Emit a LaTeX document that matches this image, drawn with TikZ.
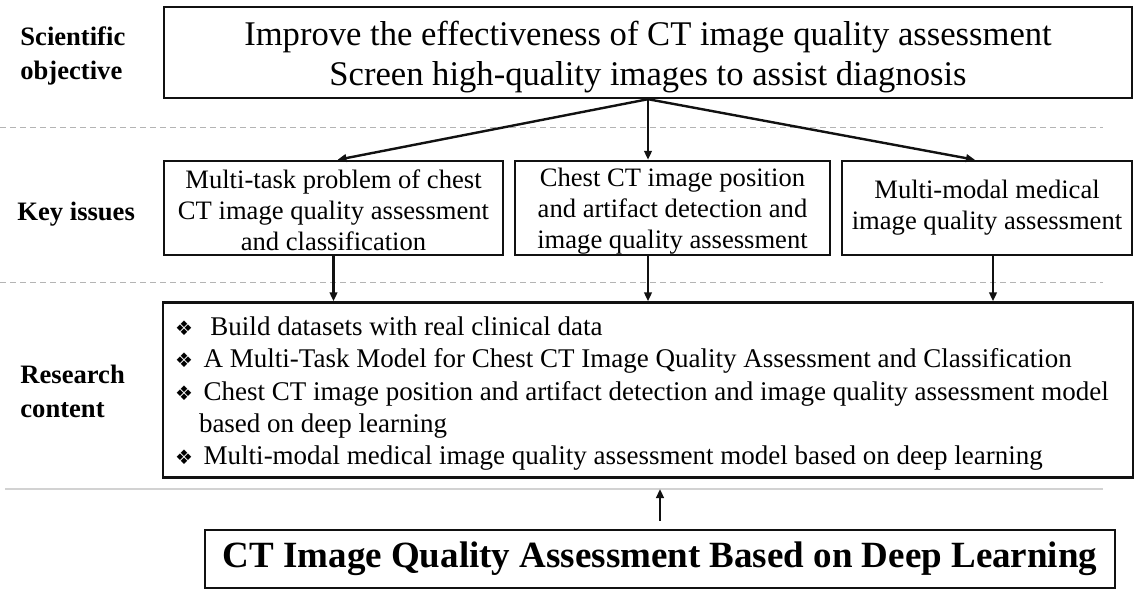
\documentclass[tikz,border=0pt]{standalone}
\usepackage{fontspec}
\setmainfont{Liberation Serif}
\newfontfamily\dejavu{DejaVu Sans}
\usetikzlibrary{arrows.meta,positioning}
\definecolor{CTInk}{HTML}{111111}
\definecolor{CTGrid}{HTML}{B4B4B4}
\definecolor{CTRule}{HTML}{D2D2D2}
\newcommand{\dmd}{{\dejavu\fontsize{10}{10}\selectfont\char"2756}\hspace{0.15em}}

\begin{document}
\begin{tikzpicture}[
    x=0.5pt,y=-0.5pt,
    box/.style={draw=CTInk,line width=1.2pt,align=center,inner sep=0pt},
    goal/.style={box,minimum width=484pt,minimum height=45.5pt,
      font=\fontsize{17.3}{20}\selectfont},
    issue/.style={box,minimum height=47pt,font=\fontsize{13.3}{15.5}\selectfont},
    content/.style={box,minimum width=485pt,minimum height=87.5pt,
      text width=473pt,inner xsep=6pt,
      font=\fontsize{13.5}{16.2}\selectfont,align=flush left},
    theme/.style={box,minimum width=455pt,minimum height=29pt,
      font=\bfseries\fontsize{18.5}{22}\selectfont},
    side/.style={anchor=west,align=left,inner sep=0pt,
      font=\bfseries\fontsize{13.3}{17}\selectfont},
    grid/.style={draw=CTGrid,line width=0.5pt,dash pattern=on 3pt off 2pt},
    rule/.style={draw=CTRule,line width=0.7pt},
    arrow/.style={-{Triangle[length=4.5pt,width=3.8pt]},line width=1.2pt,draw=CTInk}
  ]
    \useasboundingbox (0,0) rectangle (1140,604);
    % row labels
    \node[side] (lblgoal) at (20,56) {Scientific\\objective};
    \node[side] (lblissue) at (17,214) {Key issues};
    \node[side] (lblcontent) at (20,391) {Research\\content};
    % separators
    \draw[grid] (0,128) -- (1103,128);
    \draw[grid] (0,283) -- (1103,283);
    \draw[rule] (5,489) -- (1103,489);
    % boxes
    \node[goal] (goal) at (648,52.5) {\rule{0pt}{17pt}Improve the effectiveness of CT image quality assessment\\
      Screen high-quality images to assist diagnosis};
    \node[issue,minimum width=169.5pt] (multitask) at (333.5,208)
      {\rule{0pt}{12pt}Multi-task problem of chest\\CT image quality assessment\\and classification};
    \node[issue,minimum width=157.5pt] (position) at (672.5,208)
      {\rule{0pt}{12pt}Chest CT image position\\and artifact detection and\\image quality assessment};
    \node[issue,minimum width=145pt] (modal) at (987,208)
      {Multi-modal medical\\image quality assessment};
    \node[content] (research) at (648,390) {%
      \rule{0pt}{13pt}\dmd\ \ Build datasets with real clinical data\\
      \dmd\ A Multi-Task Model for Chest CT Image Quality Assessment and Classification\\
      \dmd\ Chest CT image position and artifact detection and image quality assessment model\\
      \hspace*{12pt}based on deep learning\\
      \dmd\ Multi-modal medical image quality assessment model based on deep learning};
    \node[theme] (theme) at (660,559) {CT Image Quality Assessment Based on Deep Learning};
    \coordinate (ruleend) at (660,489);
    % connectors
    \draw[arrow] (goal.south) -- ([xshift=2pt]multitask.north);
    \draw[arrow] (goal.south) -- (goal.south |- position.north);
    \draw[arrow] (goal.south) -- ([xshift=-6pt]modal.north);
    \draw[arrow] (multitask.south) -- (multitask.south |- research.north);
    \draw[arrow] (goal.south |- position.south) -- (goal.south |- research.north);
    \draw[arrow] ([xshift=3pt]modal.south) -- ([xshift=3pt]modal.south |- research.north);
    \draw[arrow] ([yshift=4pt]theme.north) -- (ruleend);
  \end{tikzpicture}
\end{document}
